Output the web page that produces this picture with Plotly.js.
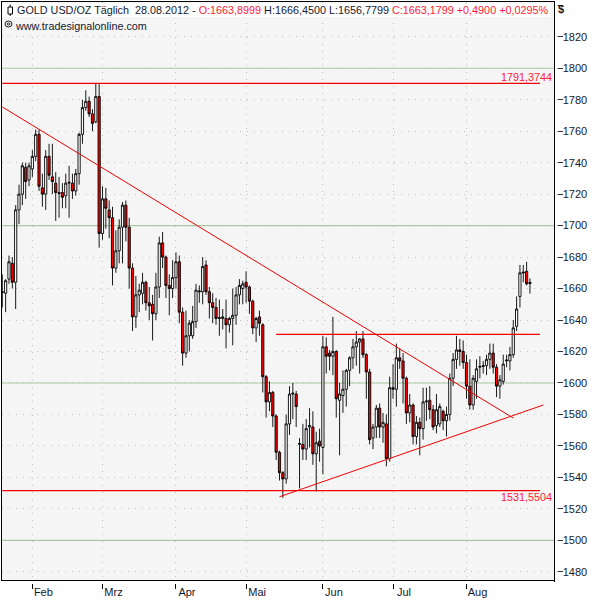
<!DOCTYPE html>
<html><head><meta charset="utf-8">
<script src="https://cdn.plot.ly/plotly-3.0.1.min.js"></script>
<style>html,body{margin:0;padding:0;background:#fff}#c{width:595px;height:600px}</style></head>
<body><div id="c"></div>
<script>
const opens=[1658,1657,1666,1676,1664,1710,1720,1737,1729,1736,1744,1758,1724,1720,1744,1731,1727,1721,1721,1719,1727,1727,1722,1733,1758,1775,1779,1771,1766,1782,1695,1717,1710,1705,1673,1684,1699,1713,1699,1673,1642,1656,1657,1664,1651,1650,1644,1661,1689,1680,1662,1660,1667,1677,1645,1619,1630,1630,1639,1658.5,1658,1675,1658,1651,1648,1641,1641,1641,1637,1641,1643,1656,1660,1664,1661,1652,1635,1642,1637,1604,1588,1594,1579,1556,1543,1539,1574,1593,1593,1561,1561,1558,1572,1572,1555,1563,1559,1623,1619,1617,1620,1589,1592,1596,1608,1616,1623,1626,1628,1618,1607,1565,1572,1584,1572,1574,1552,1597,1596,1616,1614,1603,1581,1586,1566,1575,1571,1588,1589,1583,1573,1574,1582,1576,1580,1603,1615,1621,1620,1613,1598,1586,1601,1610,1610.5,1611,1615,1619,1610,1598,1601,1614,1614,1618,1636,1655,1670.5,1671,1663.9];
const highs=[1669,1666,1681,1680,1713,1726,1740,1740,1740,1748,1761,1761,1733,1748,1752,1752,1734,1731,1727,1733,1738,1733,1736,1759,1780,1786,1782,1774,1790,1790,1725,1724,1716,1712,1697,1704,1715,1716,1705,1676,1668,1663,1670,1665,1661,1656,1670,1693,1696,1681,1669,1678,1683,1681,1648,1646,1640,1649,1663,1662,1680,1678,1661,1657,1654,1653,1647,1653,1642,1660,1661,1666,1665,1671,1662,1653,1642,1646,1638,1605,1601,1595,1580,1557,1544,1580,1598,1600,1595,1565,1574,1577,1584,1582,1569,1571,1630,1629,1621,1642,1621,1600,1608,1609,1617,1628,1633,1628.5,1633,1619,1609,1574,1586,1587,1581,1580,1604,1612,1625,1622,1619,1604,1593,1587,1579,1578,1597,1597,1598,1586,1593,1587,1583,1585,1606,1619,1630,1628,1627,1618,1615,1605,1615,1617,1614,1618,1625,1625,1612,1605,1618,1618,1623,1640,1655,1675,1675,1677,1666.45];
const lows=[1648,1645,1663,1660,1647,1701,1713,1717,1725,1731,1741,1722,1712,1710,1729,1720,1703,1705,1711,1711,1705,1717,1719,1726,1752,1773,1769,1760,1765,1686,1691,1698,1692,1662,1670,1676,1676,1690,1660,1633,1635,1645,1650,1646,1640,1627,1640,1654,1673,1654,1643,1654,1660,1638,1611,1616,1620,1628,1635,1651,1650,1656,1641,1638,1637,1630,1634,1622,1632,1624,1637,1650,1650,1651,1644,1631,1626,1630,1594,1578,1582,1572,1551,1538,1527,1536,1567,1577,1572,1533,1551,1551,1559,1548,1531,1550,1542,1606,1608,1605,1578,1554,1581,1585,1598,1609,1611,1606,1616,1590,1561,1558,1565,1565,1562,1547,1550,1590,1585,1609,1587,1574,1575,1561,1561,1554,1564,1576,1577,1570,1568,1572,1570,1566,1576,1598,1609,1611,1609,1590,1583,1583,1590,1603,1606,1605,1609,1606,1591,1590,1599,1610,1608,1616,1633,1648,1664,1662,1656.78];
const closes=[1657.5,1665,1677,1664,1710,1720,1738,1728,1738,1744,1758,1725,1720,1744,1732,1728,1721,1720.5,1718,1727,1727.5,1722,1733,1758,1775,1779,1771,1765,1782,1695,1717,1711,1705,1673,1684,1699,1713,1699,1673,1642,1656,1659,1664,1651,1649,1644,1661,1689,1680,1662,1660,1667,1677,1645,1619,1630,1638,1639,1659,1658,1674,1658,1651,1648,1641,1641.5,1642,1637,1641,1643,1656,1662,1663,1661,1652,1635,1641,1638,1604,1588,1594,1579,1556,1543,1539,1574,1593,1593.5,1585,1561.5,1558,1571,1573,1555,1562,1560,1623,1617,1617,1620,1590,1593,1596,1608,1616,1623,1626,1628,1618,1607,1564,1572,1584,1572,1575,1552,1597,1596,1616,1614,1603,1581,1586,1566,1575,1571,1588,1588.5,1583,1572,1583,1585,1576,1580,1603,1615,1621,1620,1613,1598,1586,1603,1609,1610.5,1611,1615,1619,1610,1598,1602,1612,1614.5,1618,1635,1647,1670,1670,1663,1663.18];
const barIdx=opens.map((_,i)=>i);

const monthLabels=['Feb','Mrz','Apr','Mai','Jun','Jul','Aug'];
const monthIdx=[9,30,52,73,96,117,139];

const downX=[0,153], downY=[1775.4,1577.7];
const upX=[83,162], upY=[1527.7,1586];
const resistX=[82,161], resistY=[1630.9,1630.9];
const topX=[0,161], topY=[1790.4,1790.4];
const bottomX=[0,161], bottomY=[1531.55,1531.55];
const solidLevels=[1500,1600,1700,1800];

const W=595,H=600,ml=2,mt=2,mr=41,mb=20,pw=W-ml-mr,ph=H-mt-mb;
const px=v=>(v-ml)/pw, py=v=>1-(v-mt)/ph;
const DARK='#14182e', RED='#ff1a35';
const lineTrace=(x,y,w)=>({type:'scatter',mode:'lines',x,y,line:{color:'#f20000',width:w},hoverinfo:'skip'});

const traces=[
 {type:'candlestick',x:barIdx,open:opens,high:highs,low:lows,close:closes,whiskerwidth:0,
  increasing:{line:{color:'#000',width:0.9},fillcolor:'#ffffff'},
  decreasing:{line:{color:'#000',width:0.9},fillcolor:'#ff0000'},hoverinfo:'skip'},
 lineTrace(downX,downY,1), lineTrace(upX,upY,1),
 lineTrace(resistX,resistY,1.3), lineTrace(topX,topY,1.3), lineTrace(bottomX,bottomY,1.3)
];

const paperRect=(x0,y0,x1,y1,extra)=>Object.assign({type:'rect',xref:'paper',yref:'paper',x0:px(x0),x1:px(x1),y0:py(y0),y1:py(y1),line:{width:0}},extra);

const shapes=solidLevels.map(v=>({type:'line',xref:'paper',yref:'y',x0:0,x1:1,y0:v,y1:v,layer:'below',line:{color:'#a9c8a2',width:1.2}}));
shapes.push(
 paperRect(2,3,550,17,{fillcolor:'#fff',layer:'above'}),
 paperRect(555,0,557.5,584,{fillcolor:'#fff',layer:'above'}),
 paperRect(0,581,554,584,{fillcolor:'#fff',layer:'above'}),
 paperRect(8,7,12.5,14,{fillcolor:'#fff',line:{color:'#000',width:1},layer:'above'}),
 {type:'line',xref:'paper',yref:'paper',x0:px(10.2),x1:px(10.2),y0:py(4.5),y1:py(7),layer:'above',line:{color:'#000',width:1}},
 {type:'line',xref:'paper',yref:'paper',x0:px(10.2),x1:px(10.2),y0:py(14),y1:py(16),layer:'above',line:{color:'#000',width:1}},
 {type:'circle',xref:'paper',yref:'paper',x0:px(5),x1:px(12),y0:py(21),y1:py(27),layer:'above',line:{color:'#222',width:1},fillcolor:'rgba(0,0,0,0)'},
 {type:'circle',xref:'paper',yref:'paper',x0:px(7),x1:px(10),y0:py(23),y1:py(25),layer:'above',line:{color:'#222',width:1},fillcolor:'rgba(0,0,0,0)'}
);

const FONT='"Liberation Sans",Arial,sans-serif';
const header='<span style="color:'+DARK+'">GOLD USD/OZ Täglich\u00a0\u00a028.08.2012 - </span>'+
 '<span style="color:'+RED+'">O:1663,8999 </span>'+
 '<span style="color:'+DARK+'">H:1666,4500 L:1656,7799 </span>'+
 '<span style="color:'+RED+'">C:1663,1799 +0,4900 +0,0295%</span>';

const annotations=[
 {xref:'paper',yref:'paper',x:px(15),y:py(10),xanchor:'left',yanchor:'middle',showarrow:false,align:'left',text:header,font:{family:FONT,size:10.8,color:DARK}},
 {xref:'paper',yref:'paper',x:px(13),y:py(26),xanchor:'left',yanchor:'middle',showarrow:false,text:'www.tradesignalonline.com',font:{family:FONT,size:10.8,color:DARK}},
 {xref:'paper',yref:'paper',x:px(556),y:py(9),xanchor:'left',yanchor:'middle',showarrow:false,text:'<b>$</b>',font:{family:FONT,size:11,color:DARK}},
 {xref:'paper',yref:'y',x:px(554),y:1794.5,xanchor:'right',yanchor:'middle',showarrow:false,text:'1791,3744',font:{family:FONT,size:10.8,color:RED}},
 {xref:'paper',yref:'y',x:px(554),y:1527.5,xanchor:'right',yanchor:'middle',showarrow:false,text:'1531,5504',font:{family:FONT,size:10.8,color:RED}}
];

const layout={
 width:W,height:H,margin:{l:ml,r:mr,t:mt,b:mb,pad:0},
 paper_bgcolor:'#fff',plot_bgcolor:'#f5f5f5',showlegend:false,hovermode:false,dragmode:false,
 boxgap:0.06,
 xaxis:{type:'linear',range:[-0.09,165.2],rangeslider:{visible:false},tickmode:'array',tickvals:monthIdx,ticktext:monthLabels,
  ticks:'outside',ticklen:7,tickcolor:'#000',tickwidth:1,ticklabelshift:11,ticklabelstandoff:-6,
  showgrid:true,gridcolor:'#b4c8b4',griddash:'1px,6px',gridwidth:1,zeroline:false,
  showline:true,linecolor:'#000',linewidth:1.5,mirror:true,
  tickfont:{family:FONT,size:11,color:DARK}},
 yaxis:{type:'linear',side:'right',range:[1474.8,1842.1],tickmode:'linear',tick0:1480,dtick:20,
  ticks:'outside',ticklen:7,tickcolor:'#333',tickwidth:1,ticklabelstandoff:-2,
  showgrid:true,gridcolor:'#b4c8b4',griddash:'1px,6px',gridwidth:1,zeroline:false,
  showline:true,linecolor:'#000',linewidth:1.5,mirror:true,
  tickfont:{family:FONT,size:11,color:DARK}},
 shapes,annotations
};
Plotly.newPlot('c',traces,layout,{displayModeBar:false,staticPlot:true});
</script></body></html>
